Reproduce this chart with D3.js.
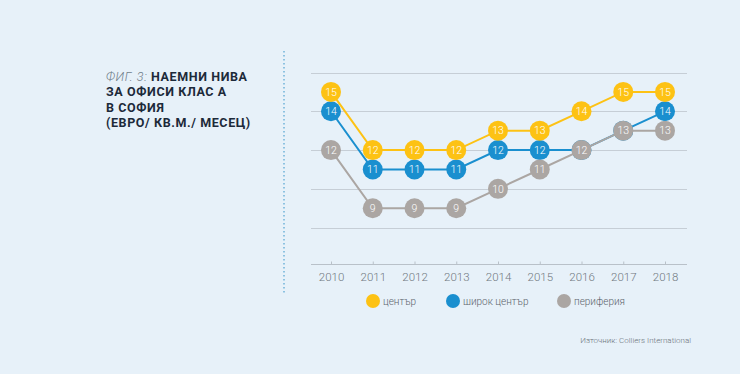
<!DOCTYPE html>
<html>
<head>
<meta charset="utf-8">
<script src="https://cdn.jsdelivr.net/npm/d3@7"></script>
<style>
  html, body { margin: 0; padding: 0; background: #e7f1f9; }
  svg { display: block; }
</style>
</head>
<body>
<div id="chart"></div>
<script>
var years = [2010, 2011, 2012, 2013, 2014, 2015, 2016, 2017, 2018];
var center = [15, 12, 12, 12, 13, 13, 14, 15, 15];
var wideCenter = [14, 11, 11, 11, 12, 12, 12, 13, 14];
var periphery = [12, 9, 9, 9, 10, 11, 12, 13, 13];
var gridTicks = [8, 10, 12, 14, 16];
var seriesNames = ["център", "широк център", "периферия"];
var titleLines = ["НАЕМНИ НИВА", "ЗА ОФИСИ КЛАС А", "В СОФИЯ", "(ЕВРО/ КВ.М./ МЕСЕЦ)"];

var colors = ["#fdc214", "#1a8fcf", "#aba6a3"];
var series = [center, wideCenter, periphery];

var size = {w: 740, h: 374};
var svg = d3.select("#chart")
  .append("svg")
  .attr("width", size.w)
  .attr("height", size.h);

svg.append("rect")
  .attr("width", size.w)
  .attr("height", size.h)
  .attr("fill", "#e7f1f9");

// title block
var title = svg.append("text")
  .attr("x", 106)
  .attr("y", 81)
  .attr("font-family", "Roboto, 'Noto Sans', sans-serif")
  .attr("font-size", 12.5)
  .attr("letter-spacing", 0.6)
  .attr("fill", "#1d2a3a");

titleLines.forEach(function(line, i) {
  var t = title.append("tspan")
    .attr("x", 106)
    .attr("dy", i == 0 ? 0 : 15.3);
  if (i == 0) {
    t.append("tspan")
      .attr("font-style", "italic")
      .attr("font-weight", 300)
      .attr("fill", "#6f7d8a")
      .text("ФИГ. 3: ");
  }
  t.append("tspan")
    .attr("font-weight", 700)
    .text(line);
});

// dotted separator
svg.append("line")
  .attr("x1", 284).attr("x2", 284)
  .attr("y1", 51).attr("y2", 294)
  .attr("stroke", "#6fb3d9")
  .attr("stroke-width", 1.5)
  .attr("stroke-dasharray", "1.5,2.5");

var x = d3.scalePoint()
  .domain(years)
  .range([331, 665]);

var y = d3.scaleLinear()
  .domain([6.1, 16])
  .range([264.5, 72.5]);

// gridlines
svg.append("g")
  .selectAll("line")
  .data(gridTicks)
  .enter()
  .append("line")
  .attr("x1", 311).attr("x2", 687)
  .attr("y1", function(d) { return Math.round(y(d)) + 0.5; })
  .attr("y2", function(d) { return Math.round(y(d)) + 0.5; })
  .attr("stroke", "#c6ced6")
  .attr("stroke-width", 1);

// x axis
var xAxis = svg.append("g")
  .attr("transform", "translate(0," + 264.5 + ")")
  .call(d3.axisBottom(x).tickSize(-3).tickPadding(8));
xAxis.select(".domain")
  .attr("d", "M311,0H687")
  .attr("stroke", "#b9c1c9");
xAxis.selectAll(".tick line").attr("stroke", "#b9c1c9");
xAxis.selectAll("text")
  .attr("font-family", "Roboto, 'Noto Sans', sans-serif")
  .attr("font-size", 11.5)
  .attr("font-weight", 300)
  .attr("fill", "#707880");

var line = d3.line()
  .x(function(d, i) { return x(years[i]); })
  .y(function(d) { return y(d); });

// draw back to front: wide center, periphery, center
[1, 2, 0].forEach(function(s) {
  var g = svg.append("g");
  g.append("path")
    .datum(series[s])
    .attr("d", line)
    .attr("fill", "none")
    .attr("stroke", colors[s])
    .attr("stroke-width", 2);
  var pts = g.selectAll("g.pt")
    .data(series[s])
    .enter()
    .append("g")
    .attr("transform", function(d, i) { return "translate(" + x(years[i]) + "," + y(d) + ")"; });
  pts.append("circle")
    .attr("r", 10)
    .attr("fill", colors[s]);
  pts.append("text")
    .attr("text-anchor", "middle")
    .attr("dy", "0.36em")
    .attr("font-family", "Roboto, 'Noto Sans', sans-serif")
    .attr("font-size", 10.5)
    .attr("font-weight", 300)
    .attr("fill", "#ffffff")
    .text(function(d) { return d; });
});

// legend
var legendX = [373, 453, 564];
var legend = svg.append("g")
  .selectAll("g")
  .data(seriesNames)
  .enter()
  .append("g")
  .attr("transform", function(d, i) { return "translate(" + legendX[i] + ",301)"; });
legend.append("circle")
  .attr("r", 7)
  .attr("fill", function(d, i) { return colors[i]; });
legend.append("text")
  .attr("x", 10)
  .attr("dy", "0.35em")
  .attr("font-family", "Roboto, 'Noto Sans', sans-serif")
  .attr("font-size", 10)
  .attr("font-weight", 300)
  .attr("fill", "#5c646c")
  .text(function(d) { return d; });

// source
svg.append("text")
  .attr("x", 691)
  .attr("y", 343)
  .attr("text-anchor", "end")
  .attr("font-family", "Roboto, 'Noto Sans', sans-serif")
  .attr("font-size", 8)
  .attr("font-weight", 300)
  .attr("fill", "#6b737b")
  .text("Източник: Colliers International");
</script>
</body>
</html>
